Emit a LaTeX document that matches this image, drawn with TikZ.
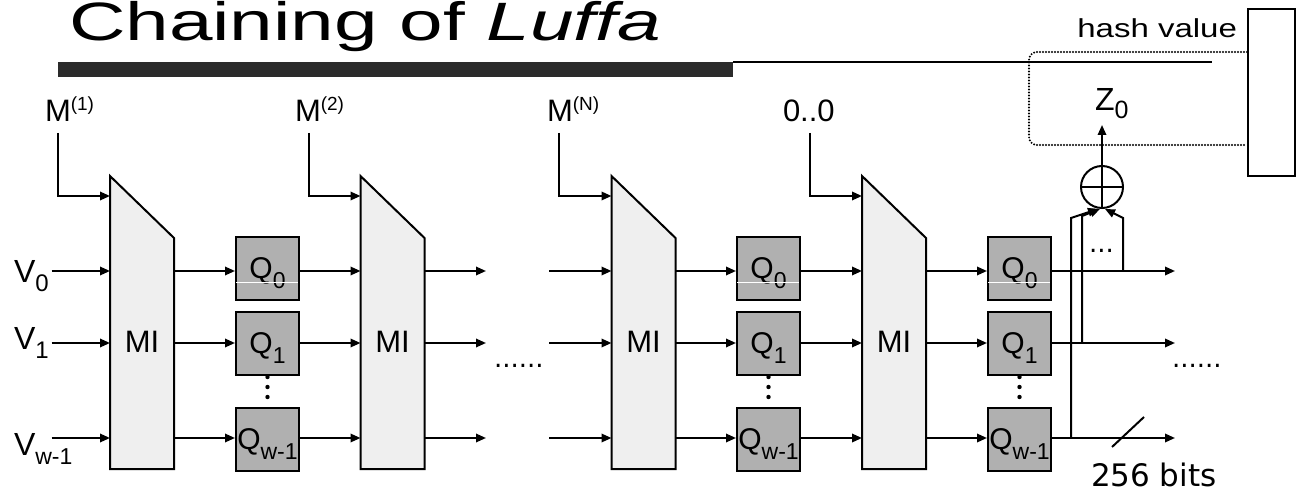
\documentclass[tikz,border=0pt]{standalone}
\usepackage{fontspec}
\setmainfont{Liberation Sans}
\newfontfamily\dejavu{DejaVu Sans}
\usepackage{graphicx}
\usetikzlibrary{arrows.meta,calc}
\definecolor{mifill}{RGB}{239,239,239}
\definecolor{qfill}{RGB}{176,176,176}
\definecolor{barcol}{RGB}{43,43,43}
\newcommand\fsz[1]{\fontsize{#1}{#1}\selectfont}
\newcommand\mysup[1]{\raisebox{5.5pt}{\fsz{9.5pt}#1}}
\newcommand\mysub[3]{\raisebox{-#1}{\fsz{#2}#3}}
\begin{document}
\begin{tikzpicture}[x=0.5pt,y=-0.5pt,line width=1pt,
  arr/.style={-{Triangle[length=5pt,width=4.2pt]}},
  mi/.style={minimum width=31pt,minimum height=145.5pt,inner sep=0pt},
  mipoly/.style={draw,fill=mifill,line join=miter},
  milab/.style={inner sep=0pt,font=\fsz{15.5pt}},
  qbox/.style={draw,fill=qfill,minimum width=31.5pt,minimum height=31.5pt,inner sep=0pt,text height=21pt,text depth=10.5pt,font=\fsz{15pt}},
  lab/.style={inner xsep=1pt,inner ysep=0pt,anchor=base west},
  plain/.style={inner sep=0pt,anchor=base west},
  whiteline/.style={draw=white,line width=0.5pt},
  dotbox/.style={line width=1.1pt,line cap=round,dash pattern=on 0pt off 1.5pt,rounded corners=4pt},
]
\fill[white] (0,0) rectangle (1300,491);
\useasboundingbox (0,0) rectangle (1300,491);

% title
\node[plain] (title) at (68,41) {\fsz{27pt}\scalebox{1.45}[1]{Chaining of \textit{Luffa}}};
\fill[barcol] (58,62) rectangle (733,77);
\draw[line width=1pt] (733,62.5) -- (1212,62.5);

% rows
\coordinate (rowM) at (0,196);
\coordinate (rowA) at (0,271);
\coordinate (rowB) at (0,343);
\coordinate (rowC) at (0,438);
\coordinate (rowL) at (0,342);

% MI blocks
\foreach \n/\x in {1/142,2/392.5,3/643.5,4/894}{
  \node[mi] (mi\n) at (\x,322.5) {};
  \draw[mipoly] (mi\n.north west) -- ([yshift=-31pt]mi\n.north east) -- (mi\n.south east) -- (mi\n.south west) -- cycle;
  \node[milab] (mil\n) at (mi\n |- rowL) {MI};
}

% Q boxes
\foreach \g/\x in {a/267.5,b/768.5,c/1019.5}{
  \node[qbox] (q\g0) at (\x,268.5) {Q\mysub{5pt}{11.5pt}{0}};
  \node[qbox] (q\g1) at (\x,343.5) {Q\mysub{5pt}{11.5pt}{1}};
  \node[qbox] (q\g2) at (\x,439) {Q\mysub{5pt}{11.5pt}{w-1}};
  \draw[whiteline] ([xshift=0.5pt,yshift=9pt]q\g0.south west) -- ([xshift=-1pt,yshift=9pt]q\g0.south east);
  \fill ([yshift=-0.5pt]q\g1.south) circle (1.1pt);
  \fill ([yshift=-5.5pt]q\g1.south) circle (1.1pt);
  \fill ([yshift=-10.5pt]q\g1.south) circle (1.1pt);
}

% free ends
\coordinate (eA) at (486,271); \coordinate (eB) at (486,343); \coordinate (eC) at (486,438);
\coordinate (sA) at (549,271); \coordinate (sB) at (549,343); \coordinate (sC) at (549,438);
\coordinate (oA) at (1175,271); \coordinate (oB) at (1175,343); \coordinate (oC) at (1175,438);

\foreach \r/\k in {A/0,B/1,C/2}{
  \draw[arr] (mi1.east |- row\r) -- (qa\k.west |- row\r);
  \draw[arr] (qa\k.east |- row\r) -- (mi2.west |- row\r);
  \draw[arr] (mi2.east |- row\r) -- (e\r);
  \draw[arr] (s\r) -- (mi3.west |- row\r);
  \draw[arr] (mi3.east |- row\r) -- (qb\k.west |- row\r);
  \draw[arr] (qb\k.east |- row\r) -- (mi4.west |- row\r);
  \draw[arr] (mi4.east |- row\r) -- (qc\k.west |- row\r);
  \draw[arr] (qc\k.east |- row\r) -- (o\r);
}

% V inputs
\node[lab,font=\fsz{16pt}] (v0) at (11,283) {V\mysub{4.5pt}{12pt}{0}};
\node[lab,font=\fsz{16pt}] (v1) at (11,350) {V\mysub{4.5pt}{12pt}{1}};
\node[lab,font=\fsz{16pt}] (vw) at (11,455) {V\mysub{4.5pt}{11.5pt}{w-1}};
\draw[arr] (v0.east |- rowA) -- (mi1.west |- rowA);
\draw[arr] (v1.east |- rowB) -- (mi1.west |- rowB);
\draw[arr] (v0.east |- rowC) -- (mi1.west |- rowC);

% message inputs
\node[lab,font=\fsz{15.5pt}] (m1) at (42,122) {M\mysup{(1)}};
\node[lab,font=\fsz{15.5pt}] (m2) at (292,122) {M\mysup{(2)}};
\node[lab,font=\fsz{15.5pt}] (mN) at (544,122) {M\mysup{(N)}};
\node[lab,font=\fsz{15.5pt}] (m0) at (780,122) {0..0};
\draw[arr] ([shift={(16,11)}]m1.base west) |- (mi1.west |- rowM);
\draw[arr] ([shift={(17,11)}]m2.base west) |- (mi2.west |- rowM);
\draw[arr] ([shift={(15,11)}]mN.base west) |- (mi3.west |- rowM);
\draw[arr] ([shift={(30,11)}]m0.base west) |- (mi4.west |- rowM);

% dots
\node[plain,font={\dejavu\fsz{13pt}}] (dl) at (493,367) {......};
\node[plain,font={\dejavu\fsz{13pt}}] (dr) at (1171,367) {......};
\node[plain,font={\dejavu\fsz{13pt}}] (dx) at (1088,253) {...};

% XOR
\node[draw,circle,minimum size=21pt,inner sep=0pt] (xor) at (1102,187) {};
\draw (xor.west) -- (xor.east) (xor.south) -- (xor.north);
\node[plain,font=\fsz{16pt}] (z0) at (1094,111) {Z\mysub{4pt}{12.5pt}{0}};
\coordinate (zt) at (1102,125);
\draw[arr] (xor.north) -- (zt);
\coordinate (t1) at (1071,438); \coordinate (k1) at (1071,218);
\coordinate (t2) at (1082,343); \coordinate (k2) at (1082,216);
\coordinate (t3) at (1123,271); \coordinate (k3) at (1123,218);
\draw[arr] (t1) -- (k1) -- ([xshift=-2pt]xor.south);
\draw[arr] (t2) -- (k2) -- ([xshift=-1pt]xor.south);
\draw[arr] (t3) -- (k3) -- ([xshift=1.5pt]xor.south);

% 256 bits
\coordinate (sl1) at (1112,447); \coordinate (sl2) at (1144,417);
\draw (sl1) -- (sl2);
\node[plain,font={\dejavu\fsz{15.5pt}}] (bits) at (1090,486) {256 bits};

% hash value
\node[draw,minimum width=23.5pt,minimum height=83.5pt,inner sep=0pt] (hv) at (1271.5,92.5) {};
\node[inner sep=0pt,anchor=base east] (hvl) at (1238,38) {\fsz{13pt}\scalebox{1.27}[1]{hash value}};
\coordinate (d1) at (1029,52); \coordinate (d2) at (1029,145);
\draw[dotbox] (hv.west |- d1) -- (d1) -- (d2) -- (hv.west |- d2);
\end{tikzpicture}
\end{document}
